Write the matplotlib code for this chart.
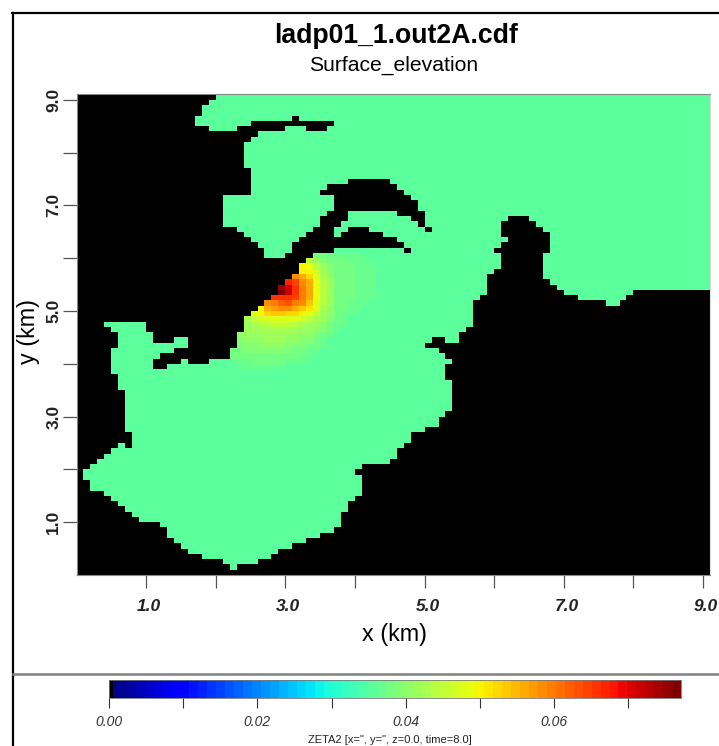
import numpy as np
import matplotlib
matplotlib.use("Agg")
import matplotlib.pyplot as plt
from matplotlib.colors import ListedColormap
from matplotlib.transforms import ScaledTranslation

TITLE = "ladp01_1.out2A.cdf"
SUBTITLE = "Surface_elevation"
XLABEL = "x (km)"
YLABEL = "y (km)"
CBAR_LABEL = 'ZETA2 [x=", y=", z=0.0, time=8.0]'
X_TICKS = [1, 2, 3, 4, 5, 6, 7, 8, 9]
Y_TICKS = [1, 2, 3, 4, 5, 6, 7, 8, 9]
LABELLED = [1, 3, 5, 7, 9]
CBAR_TICKS = [0.0, 0.01, 0.02, 0.03, 0.04, 0.05, 0.06, 0.07]
CBAR_LABELLED = [0.0, 0.02, 0.04, 0.06]
VMIN, VMAX = 0.0, 0.0771
N_CELLS = 91
CELL_KM = 0.1
BASE_LEVEL = 0.0358

# water cells per grid row (top row first): [start, end) column spans
WATER_SPANS = [
    [(20, 91)], [(19, 91)], [(18, 91)], [(18, 91)],
    [(17, 31), (32, 91)],
    [(17, 25), (37, 91)],
    [(19, 23), (30, 33), (36, 91)],
    [(26, 91)], [(25, 91)],
    [(24, 91)], [(24, 91)], [(24, 91)], [(24, 91)], [(24, 91)],
    [(25, 91)], [(25, 91)],
    [(25, 39), (45, 91)],
    [(25, 36), (46, 91)],
    [(25, 35), (47, 91)],
    [(21, 37), (48, 91)],
    [(21, 37), (49, 91)],
    [(21, 37), (49, 91)],
    [(21, 36), (39, 46), (50, 91)],
    [(21, 35), (39, 48), (50, 62), (65, 91)],
    [(21, 35), (38, 49), (50, 61), (66, 91)],
    [(23, 34), (37, 39), (42, 50), (51, 61), (67, 91)],
    [(24, 33), (37, 38), (44, 61), (68, 91)],
    [(25, 32), (46, 62), (68, 91)],
    [(26, 31), (47, 61), (68, 91)],
    [(27, 31), (37, 47), (48, 60), (68, 91)],
    [(27, 30), (34, 61), (67, 91)],
    [(33, 61), (67, 91)],
    [(32, 61), (67, 91)],
    [(32, 60), (67, 91)],
    [(31, 59), (67, 91)],
    [(30, 59), (68, 91)],
    [(29, 59), (69, 91)],
    [(29, 59), (70, 80)],
    [(28, 58), (72, 79)],
    [(27, 57), (76, 78)],
    [(26, 57)], [(25, 57)], [(24, 57)],
    [(4, 10), (24, 57)],
    [(5, 10), (24, 56)],
    [(6, 11), (23, 55)],
    [(6, 11), (14, 16), (23, 51), (53, 55)],
    [(6, 16), (23, 50)],
    [(5, 14), (22, 52)],
    [(5, 12), (22, 53)],
    [(5, 11), (15, 16), (19, 54)],
    [(5, 11), (13, 53)],
    [(5, 53)], [(6, 53)], [(6, 54)], [(6, 54)],
    [(7, 54)], [(7, 54)], [(7, 54)], [(7, 54)],
    [(7, 53)], [(7, 52)], [(7, 52)], [(7, 50)],
    [(8, 48)], [(8, 48)],
    [(6, 7), (8, 47)],
    [(5, 46)], [(4, 46)], [(3, 45)], [(2, 41)], [(1, 40)], [(1, 41)],
    [(2, 41)], [(2, 41)], [(4, 41)], [(5, 40)], [(6, 39)], [(7, 39)],
    [(8, 38)], [(9, 38)], [(12, 38)], [(13, 37)], [(13, 35)], [(14, 33)],
    [(15, 31)], [(16, 29)], [(18, 28)], [(21, 26)], [(22, 23)],
    [],
]

HOT_ROWS = {
    30: (34, [.038, .038, .037, .037, .037, .0365, .0365]),
    31: (33, [.044, .041, .039, .038, .0375, .0375, .037, .037, .0365]),
    32: (32, [.050, .049, .044, .041, .039, .038, .0375, .0375, .037, .037, .0365]),
    33: (32, [.050, .050, .046, .042, .040, .038, .0375, .0375, .037, .037, .0365]),
    34: (31, [.058, .056, .053, .048, .043, .040, .038, .0375, .0375, .037, .037, .0365]),
    35: (30, [.067, .064, .059, .056, .049, .044, .041, .038, .0375, .0375, .037, .037, .0365]),
    36: (29, [.074, .071, .066, .060, .056, .049, .044, .041, .038, .0375, .0375, .037, .037, .0365]),
    37: (29, [.077, .072, .066, .060, .056, .049, .044, .041, .038, .0375, .0375, .037, .037, .0365]),
    38: (28, [.066, .066, .066, .064, .060, .056, .049, .044, .041, .038, .0375, .0375, .037, .037, .0365]),
    39: (27, [.059, .060, .062, .063, .060, .058, .054, .048, .044, .041, .038, .0375, .037, .037, .0365]),
    40: (26, [.050, .056, .057, .058, .058, .056, .054, .051, .047, .043, .040, .038, .0375, .037, .0365]),
    41: (25, [.047, .050, .052, .054, .054, .053, .052, .050, .048, .045, .042, .040, .038, .037, .0365]),
    42: (24, [.043, .045, .046, .047, .048, .048, .048, .047, .046, .045, .043, .041, .039, .0375, .0365]),
    43: (24, [.042, .043, .044, .044, .045, .045, .045, .044, .043, .042, .041, .040, .038, .037, .0365]),
    44: (24, [.041, .042, .042, .043, .043, .043, .043, .042, .042, .041, .040, .039, .0375, .0365]),
    45: (23, [.040, .041, .041, .041, .042, .042, .042, .041, .041, .040, .040, .039, .0375, .0365]),
    46: (23, [.039, .040, .040, .040, .041, .041, .041, .040, .040, .039, .039, .038, .0365]),
    47: (23, [.039, .039, .039, .040, .040, .040, .040, .039, .039, .039, .038, .0375, .0365]),
    48: (22, [.038, .038, .039, .039, .039, .039, .039, .039, .039, .038, .038, .037, .0365]),
    49: (22, [.038, .038, .038, .038, .038, .038, .038, .038, .038, .0375, .037, .0365]),
    50: (22, [.037, .037, .037, .0375, .0375, .0375, .0375, .0375, .037, .0365, .0365]),
    51: (23, [.0365, .0365, .0365, .0365, .0365, .0365, .0365]),
}

W, H = 719, 746
plt.rcParams["font.family"] = ["Liberation Sans", "DejaVu Sans"]
fig = plt.figure(figsize=(W / 100, H / 100), dpi=100, facecolor="white")


def px_axes(x0, y0, x1, y1):
    return fig.add_axes([x0 / W, 1 - y1 / H, (x1 - x0) / W, (y1 - y0) / H])


# colour scale: 64 jet steps, lowest sliver black
base = plt.get_cmap("jet", 64)
colors = [base(i // 2) for i in range(128)]
colors[0] = (0, 0, 0, 1)
cmap = ListedColormap(colors)

# field
field = np.full((N_CELLS, N_CELLS), np.nan)
for row, spans in enumerate(WATER_SPANS):
    for start, end in spans:
        field[row, start:end] = BASE_LEVEL
for row, (start, vals) in HOT_ROWS.items():
    for k, v in enumerate(vals):
        if not np.isnan(field[row, start + k]):
            field[row, start + k] = v

edges = np.arange(N_CELLS + 1) * CELL_KM
ax = px_axes(76.5, 94, 710, 575)
ax.set_facecolor("black")
ax.pcolormesh(edges, edges[::-1], np.ma.masked_invalid(field), cmap=cmap, vmin=VMIN, vmax=VMAX, shading="flat")
ax.set_xlim(0, N_CELLS * CELL_KM)
ax.set_ylim(0, N_CELLS * CELL_KM + 0.01)
ax.set_xticks(X_TICKS)
ax.set_yticks(Y_TICKS)
ax.set_xticklabels([f"{t:.1f}" if t in LABELLED else "" for t in X_TICKS],
                   fontsize=12.5, style="italic", fontweight="bold", color="#222222")
ax.set_yticklabels([f"{t:.1f}" if t in LABELLED else "" for t in Y_TICKS],
                   fontsize=12.5, fontweight="bold", rotation=90, va="center", color="#222222")
ax.tick_params(axis="x", length=9, width=0.9, color="#555555", pad=8)
ax.tick_params(axis="y", length=10, width=0.9, color="#555555", pad=1)
shift = ScaledTranslation(3 / 100, 0, fig.dpi_scale_trans)
for lab in ax.get_xticklabels():
    lab.set_transform(lab.get_transform() + shift)
for s in ax.spines.values():
    s.set_linewidth(0.8)
    s.set_color("#888888")
ax.spines["right"].set_color("#dddddd")

# page furniture
fig.text(396 / W, 1 - 36 / H, TITLE, fontsize=19.2, fontweight="bold", ha="center", va="center")
fig.text(394 / W, 1 - 65 / H, SUBTITLE, fontsize=15.2, ha="center", va="center")
fig.text(395 / W, 1 - 634 / H, XLABEL, fontsize=16.8, ha="center", va="center")
fig.text(28 / W, 1 - 331 / H, YLABEL, fontsize=16.8, rotation=90, ha="center", va="center")
fig.add_artist(plt.Line2D([12.5 / W, 12.5 / W], [0, 1 - 13 / H], color="black", lw=1.6))
fig.add_artist(plt.Line2D([12 / W, 1], [1 - 13 / H, 1 - 13 / H], color="black", lw=1.6))
fig.add_artist(plt.Line2D([13 / W, 1], [1 - 674 / H, 1 - 674 / H], color="#808080", lw=1.8))

# colour bar
cax = px_axes(109, 680, 681, 698)
levels = (np.arange(128) + 0.5) / 128 * (VMAX - VMIN) + VMIN
cax.pcolormesh(np.linspace(VMIN, VMAX, 129), [0, 1], levels[None, :], cmap=cmap, vmin=VMIN, vmax=VMAX)
cax.set_xlim(VMIN, VMAX)
cax.set_yticks([])
cax.set_xticks(CBAR_TICKS)
cax.set_xticklabels([f"{t:.2f}" if t in CBAR_LABELLED else "" for t in CBAR_TICKS],
                    fontsize=10, style="italic", color="#333333")
cax.tick_params(axis="x", length=7, width=0.8, color="#333333", pad=5)
for s in cax.spines.values():
    s.set_linewidth(0.6)
    s.set_color("#777777")
fig.text(390 / W, 1 - 740 / H, CBAR_LABEL, fontsize=8, ha="center", va="center", color="#222222")

fig.savefig("out.png", dpi=100, facecolor="white")
